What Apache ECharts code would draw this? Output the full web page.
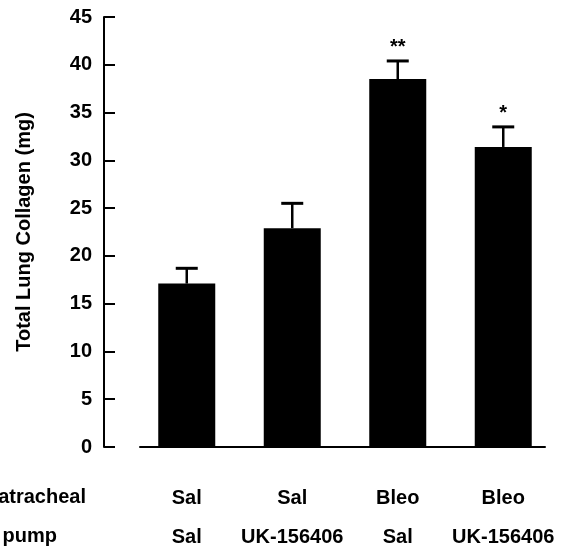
<!DOCTYPE html>
<html>
<head>
<meta charset="utf-8">
<script src="https://cdn.jsdelivr.net/npm/echarts@6/dist/echarts.min.js"></script>
<style>
html,body{margin:0;padding:0;background:#fff;}
#chart{width:565px;height:548px;}
</style>
</head>
<body>
<div id="chart"></div>
<script>
const intratracheal = ['Sal', 'Sal', 'Bleo', 'Bleo'];
const pump = ['Sal', 'UK-156406', 'Sal', 'UK-156406'];
const means = [17.1, 22.9, 38.5, 31.4];
const errors = [1.6, 2.6, 1.9, 2.1];
const stars = ['', '', '**', '*'];
const yTicks = { min: 0, max: 45, interval: 5 };

const categories = intratracheal.map((t, i) => t + '|' + pump[i]);
const FONT = 'Liberation Sans, Arial, sans-serif';

const chart = echarts.init(document.getElementById('chart'));
chart.setOption({
  backgroundColor: '#fff',
  animation: false,
  grid: [
    { left: 104, right: 9, top: 17, bottom: 101, outerBoundsMode: 'none', containLabel: false },
    { left: 134, right: 9, top: 17, bottom: 101, outerBoundsMode: 'none', containLabel: false },
    { left: 140, right: 20, top: 17, bottom: 101, outerBoundsMode: 'none', containLabel: false }
  ],
  xAxis: [
    { gridIndex: 0, type: 'category', data: [''], show: false },
    {
      gridIndex: 1, type: 'category', data: categories,
      axisLine: { show: false }, axisTick: { show: false },
      axisLabel: {
        interval: 0, margin: 32, lineHeight: 39, color: '#000',
        fontSize: 20, fontWeight: 'bold', fontFamily: FONT,
        formatter: (v, i) => intratracheal[i] + '\n' + pump[i]
      }
    },
    {
      gridIndex: 2, type: 'category', data: [''],
      axisLine: { show: true, lineStyle: { color: '#000', width: 2 } },
      axisTick: { show: false }, axisLabel: { show: false }
    }
  ],
  yAxis: [
    {
      gridIndex: 0, type: 'value', min: yTicks.min, max: yTicks.max, interval: yTicks.interval,
      name: 'Total Lung Collagen (mg)', nameLocation: 'middle', nameRotate: 90, nameGap: 70,
      nameTextStyle: { color: '#000', fontSize: 20, fontWeight: 'bold', fontFamily: FONT },
      axisLine: { show: true, lineStyle: { color: '#000', width: 2 } },
      axisTick: { show: true, inside: true, length: 11, lineStyle: { color: '#000', width: 2 } },
      splitLine: { show: false },
      axisLabel: { color: '#000', fontSize: 20, fontWeight: 'bold', fontFamily: FONT, margin: 12 }
    },
    { gridIndex: 1, type: 'value', min: yTicks.min, max: yTicks.max, show: false },
    { gridIndex: 2, type: 'value', min: yTicks.min, max: yTicks.max, show: false }
  ],
  graphic: [
    { type: 'text', x: 86, y: 497, style: { text: 'Intratracheal', align: 'right', verticalAlign: 'middle', font: 'bold 20px ' + FONT, fill: '#000' } },
    { type: 'text', x: 57, y: 536, style: { text: 'Osmotic pump', align: 'right', verticalAlign: 'middle', font: 'bold 20px ' + FONT, fill: '#000' } }
  ],
  series: [
    {
      type: 'bar', xAxisIndex: 1, yAxisIndex: 1, data: means, barWidth: 57,
      itemStyle: { color: '#000' }
    },
    {
      type: 'custom', xAxisIndex: 1, yAxisIndex: 1,
      data: means.map((m, i) => [i, m, errors[i]]),
      encode: { x: 0, y: 1 },
      renderItem: function (params, api) {
        const i = api.value(0), m = api.value(1), e = api.value(2);
        const top = api.coord([i, m + e]);
        const base = api.coord([i, m]);
        return {
          type: 'group',
          children: [
            { type: 'line', shape: { x1: top[0], y1: base[1], x2: top[0], y2: top[1] }, style: { stroke: '#000', lineWidth: 2.5 } },
            { type: 'line', shape: { x1: top[0] - 11, y1: top[1], x2: top[0] + 11, y2: top[1] }, style: { stroke: '#000', lineWidth: 3 } },
            { type: 'text', style: { text: stars[params.dataIndex], x: top[0], y: top[1] - 13, align: 'center', verticalAlign: 'middle', font: 'bold 20px ' + FONT, fill: '#000' } }
          ]
        };
      }
    }
  ]
});
</script>
</body>
</html>
